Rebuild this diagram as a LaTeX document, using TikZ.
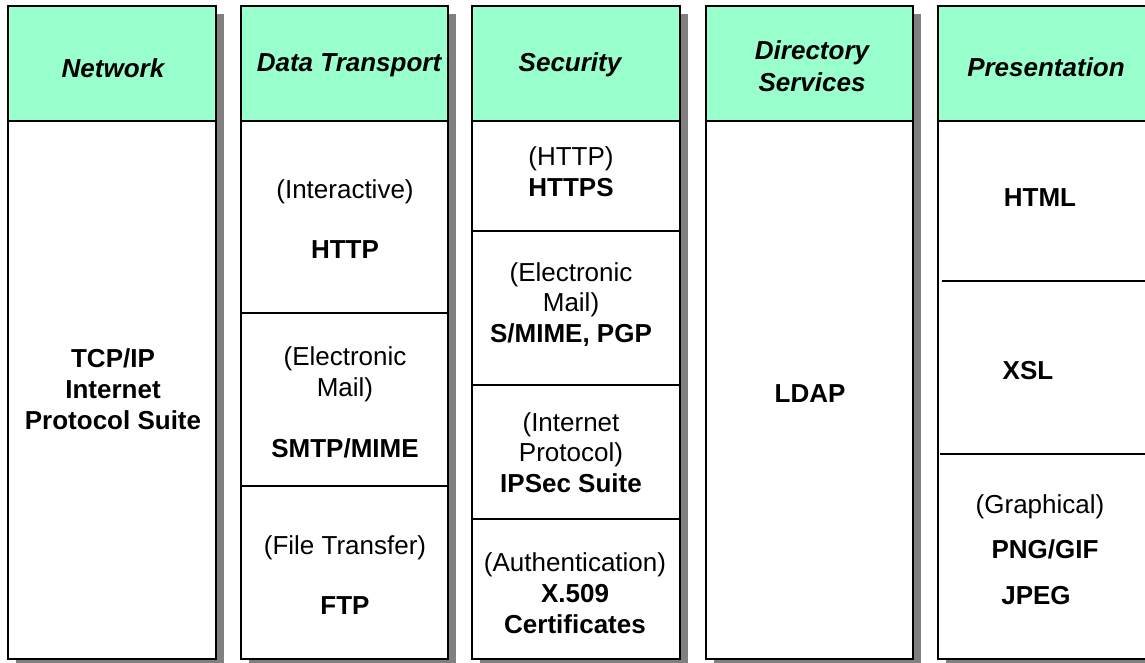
\documentclass[tikz,border=0pt]{standalone}
\usepackage{fontspec}
\setmainfont{Liberation Sans}
\definecolor{mint}{RGB}{153,255,204}
\definecolor{shade}{RGB}{128,128,128}
\tikzset{
  shadowrect/.style={fill=shade, draw=none},
  bodyrect/.style={fill=white, draw=black, line width=1.4pt},
  headrect/.style={fill=mint, draw=black, line width=1.4pt},
  divider/.style={draw=black, line width=1.2pt},
  txt/.style={inner sep=0pt, text height=18.6pt, text depth=0pt, anchor=center,
              font=\fontsize{26}{31}\selectfont},
  title/.style={txt, font=\fontsize{26}{31}\selectfont\bfseries\itshape},
  key/.style={txt, font=\fontsize{26}{31}\selectfont\bfseries},
}
\begin{document}
\begin{tikzpicture}[x=1pt,y=-1pt]
\useasboundingbox (0,0) rectangle (1145,663);

% columns: left edge, right edge
\foreach \l/\r in {8/216, 241/448, 472/680, 706/913, 938/1146}{
  \fill[shadowrect] (\l+8,14) rectangle (\r+8,667);
  \filldraw[bodyrect] (\l,6) rectangle (\r,659);
  \filldraw[headrect] (\l,6) rectangle (\r,121);
}

% cell dividers
\draw[divider] (241,313) -- (448,313);
\draw[divider] (241,486) -- (448,486);
\draw[divider] (472,231) -- (680,231);
\draw[divider] (472,385) -- (680,385);
\draw[divider] (472,519) -- (680,519);
\draw[divider] (942,281) -- (1146,281);
\draw[divider] (940,454) -- (1146,454);

% Network
\node[title] (hnet) at (113,68) {Network};
\node[key] (net1) at (113,358) {TCP/IP};
\node[key] (net2) at (113,389) {Internet};
\node[key] (net3) at (113,420) {Protocol Suite};

% Data Transport
\node[title] (hdt) at (349,62) {Data Transport};
\node[txt] (dt1a) at (345,189) {(Interactive)};
\node[key] (dt1b) at (345,249) {HTTP};
\node[txt] (dt2a) at (345,356) {(Electronic};
\node[txt] (dt2b) at (345,387) {Mail)};
\node[key] (dt2c) at (345,448) {SMTP/MIME};
\node[txt] (dt3a) at (345,545) {(File Transfer)};
\node[key] (dt3b) at (345,605) {FTP};

% Security
\node[title] (hsec) at (570,62) {Security};
\node[txt] (sec1a) at (571,156) {(HTTP)};
\node[key] (sec1b) at (571,187) {HTTPS};
\node[txt] (sec2a) at (571,272) {(Electronic};
\node[txt] (sec2b) at (571,302) {Mail)};
\node[key] (sec2c) at (571,333) {S/MIME, PGP};
\node[txt] (sec3a) at (571,422) {(Internet};
\node[txt] (sec3b) at (571,452) {Protocol)};
\node[key] (sec3c) at (571,483) {IPSec Suite};
\node[txt] (sec4a) at (575,562) {(Authentication)};
\node[key] (sec4b) at (575,593) {X.509};
\node[key] (sec4c) at (575,624) {Certificates};

% Directory Services
\node[title] (hdir1) at (812,50) {Directory};
\node[title] (hdir2) at (812,82) {Services};
\node[key] (dir1) at (810,393) {LDAP};

% Presentation
\node[title] (hpre) at (1046,67) {Presentation};
\node[key] (pre1) at (1040,197) {HTML};
\node[key] (pre2) at (1028,370) {XSL};
\node[txt] (pre3a) at (1040,504) {(Graphical)};
\node[key] (pre3b) at (1045,549) {PNG/GIF};
\node[key] (pre3c) at (1036,595) {JPEG};
\end{tikzpicture}
\end{document}
